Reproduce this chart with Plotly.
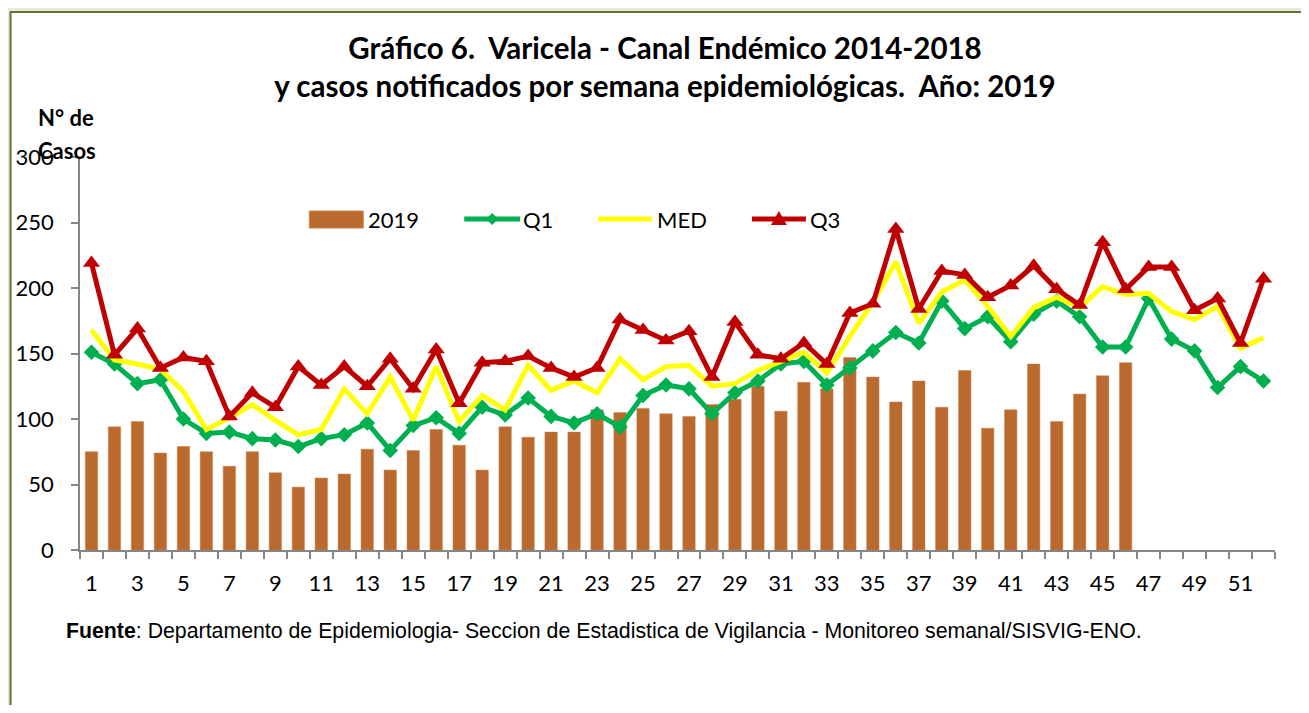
import plotly.graph_objects as go

# semanas epidemiologicas
weeks = list(range(1, 53))

# casos notificados 2019 (semanas 1-46)
cases_2019 = [75, 94, 98, 74, 79, 75, 64, 75, 59, 48, 55, 58, 77, 61, 76, 92, 80,
              61, 94, 86, 90, 90, 107, 105, 108, 104, 102, 111, 115, 125, 106, 128,
              123, 147, 132, 113, 129, 109, 137, 93, 107, 142, 98, 119, 133, 143]

# canal endemico 2014-2018
q1 = [151, 142, 127, 130, 100, 89, 90, 85, 84, 79, 85, 88, 97, 76, 95, 101, 89,
      109, 103, 116, 102, 97, 104, 94, 118, 126, 123, 104, 120, 129, 142, 144,
      126, 139, 152, 166, 158, 190, 169, 178, 159, 180, 190, 178, 155, 155, 192,
      161, 152, 124, 140, 129]
med = [168, 145, 142, 138, 121, 92, 101, 111, 99, 88, 92, 123, 104, 132, 99, 140,
       98, 118, 107, 141, 122, 129, 120, 146, 130, 140, 141, 125, 127, 137, 144,
       151, 135, 163, 189, 220, 173, 197, 206, 186, 163, 185, 193, 185, 201, 195,
       196, 182, 176, 186, 154, 162]
q3 = [219, 149, 169, 139, 147, 144, 102, 120, 109, 140, 126, 140, 125, 146, 123,
      153, 112, 143, 144, 148, 139, 132, 139, 176, 168, 160, 167, 132, 174, 149,
      146, 158, 142, 181, 188, 245, 184, 213, 210, 193, 202, 217, 199, 187, 235,
      199, 216, 216, 183, 192, 158, 207]

y_ticks = [0, 50, 100, 150, 200, 250, 300]
x_labels = list(range(1, 53, 2))
x_bounds = [w + 0.5 for w in range(0, 53)]

FONT = "Lato"
GREY = "#868686"
BAR_COLOR = "#BA6A2E"
Q1_COLOR = "#00B050"
MED_COLOR = "#FFFF00"
Q3_COLOR = "#C00000"

# page body adds an 8px margin, so the figure is a bit smaller than the window
W, H = 1293, 697
L, R, T, B = 71.5, 25.5, 149, 155
PW, PH = W - L - R, H - T - B


def px(sx):
    # window x pixel -> paper x
    return (sx - 8 - L) / PW


def py(sy):
    # window y pixel -> paper y
    return (H - B - (sy - 8)) / PH


fig = go.Figure()

fig.add_trace(go.Bar(
    x=weeks[:len(cases_2019)], y=cases_2019, name="2019",
    marker=dict(color=BAR_COLOR, line=dict(color="#C9844F", width=0.5)),
))
fig.add_trace(go.Scatter(
    x=weeks, y=q1, name="Q1", mode="lines+markers",
    line=dict(color=Q1_COLOR, width=5),
    marker=dict(symbol="diamond", size=12, color=Q1_COLOR),
))
fig.add_trace(go.Scatter(
    x=weeks, y=med, name="MED", mode="lines",
    line=dict(color=MED_COLOR, width=5),
))
fig.add_trace(go.Scatter(
    x=weeks, y=q3, name="Q3", mode="lines+markers",
    line=dict(color=Q3_COLOR, width=5),
    marker=dict(symbol="triangle-up", size=15, color=Q3_COLOR),
))

shapes = [
    # white frame with olive border
    dict(type="rect", xref="paper", yref="paper",
         x0=px(10), x1=px(1400), y0=py(800), y1=py(12),
         line=dict(color="#5E7532", width=2), fillcolor="white", layer="below"),
    # legend: 2019 box
    dict(type="rect", xref="paper", yref="paper",
         x0=px(309), x1=px(363), y0=py(228), y1=py(211),
         line=dict(color="#C9844F", width=1), fillcolor=BAR_COLOR),
]
legend_lines = [(464, 520, Q1_COLOR), (598, 652, MED_COLOR), (752, 806, Q3_COLOR)]
for x0, x1, c in legend_lines:
    shapes.append(dict(type="line", xref="paper", yref="paper",
                       x0=px(x0), x1=px(x1), y0=py(219), y1=py(219),
                       line=dict(color=c, width=5)))
# legend marker glyphs
cx, cy, r = 492, 219, 6
shapes.append(dict(type="path", xref="paper", yref="paper",
                   path=f"M{px(cx - r)},{py(cy)} L{px(cx)},{py(cy - r)} "
                        f"L{px(cx + r)},{py(cy)} L{px(cx)},{py(cy + r)} Z",
                   fillcolor=Q1_COLOR, line=dict(width=0)))
cx, cy = 779, 219
shapes.append(dict(type="path", xref="paper", yref="paper",
                   path=f"M{px(cx - 8)},{py(cy + 6)} L{px(cx)},{py(cy - 8)} "
                        f"L{px(cx + 8)},{py(cy + 6)} Z",
                   fillcolor=Q3_COLOR, line=dict(width=0)))

annotations = [
    dict(text="<b>N° de</b>", x=px(35), y=py(117)),
    dict(text="<b>Casos</b>", x=px(35), y=py(150)),
    dict(text="2019", x=px(366), y=py(219)),
    dict(text="Q1", x=px(521), y=py(219)),
    dict(text="MED", x=px(655), y=py(219)),
    dict(text="Q3", x=px(808), y=py(219)),
]
for a in annotations:
    a.update(xref="paper", yref="paper", xanchor="left", yanchor="middle",
             showarrow=False, font=dict(family=FONT, size=22, color="black"))
annotations.append(dict(
    text="<b>Fuente</b>: Departamento de Epidemiologia- Seccion de "
         "Estadistica de Vigilancia - Monitoreo semanal/SISVIG-ENO.",
    xref="paper", yref="paper", x=px(63), y=py(631),
    xanchor="left", yanchor="middle", showarrow=False,
    font=dict(family="Liberation Sans", size=21.3, color="black")))

fig.update_layout(
    width=W, height=H,
    margin=dict(l=L, r=R, t=T, b=B, autoexpand=False),
    paper_bgcolor="#EBE7DE", plot_bgcolor="white",
    bargap=0.46, showlegend=False,
    font=dict(family=FONT, size=22, color="black"),
    title=dict(
        text="<b>Gráfico 6.  Varicela - Canal Endémico 2014-2018<br>"
             "y casos notificados por semana epidemiológicas.  Año: 2019</b>",
        xref="container", x=(665 - 8) / W, xanchor="center",
        yref="container", y=1 - (59 - 8) / H, yanchor="middle",
        font=dict(family=FONT, size=29.5, color="black"),
    ),
    xaxis=dict(
        range=[0.5, 52.5], showgrid=False, zeroline=False, automargin=False,
        showline=True, linecolor=GREY, linewidth=1.5,
        tickmode="array", tickvals=x_labels, ticks="",
        tickfont=dict(size=22), ticklabelstandoff=13,
        minor=dict(tickmode="array", tickvals=x_bounds, ticks="outside",
                   ticklen=7, tickcolor=GREY, tickwidth=1.5),
    ),
    yaxis=dict(
        range=[0, 300], showgrid=False, zeroline=False, automargin=False,
        showline=True, linecolor=GREY, linewidth=1.5,
        tickmode="array", tickvals=y_ticks, ticks="outside",
        ticklen=7, tickcolor=GREY, tickwidth=1.5,
        tickfont=dict(size=22), ticklabelstandoff=13,
    ),
    shapes=shapes,
    annotations=annotations,
)

fig.write_html("out.html")
